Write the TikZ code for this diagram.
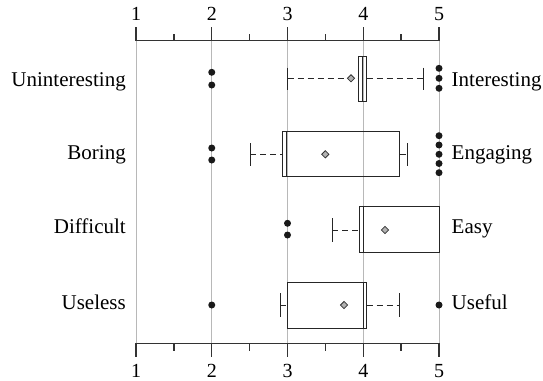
\documentclass[tikz,border=0pt]{standalone}
\usepackage{fontspec}
\setmainfont{Liberation Serif}
\usetikzlibrary{shapes.geometric}
\begin{document}
\begin{tikzpicture}[x=1pt,y=-1pt,
  grid/.style={draw=black!28, line width=1pt},
  axis/.style={draw=black!80, line width=1.3pt},
  boxst/.style={draw=black!85, line width=1pt},
  whisk/.style={draw=black!85, line width=1pt, dash pattern=on 6pt off 4pt},
  capst/.style={draw=black!85, line width=1pt},
  outl/.style={circle, fill=black!90, inner sep=0pt, minimum size=7pt},
  meanst/.style={diamond, draw=black!80, fill=black!30, line width=0.8pt, inner sep=0pt, minimum size=7.5pt},
  lab/.style={font=\fontsize{21}{25}\selectfont, inner sep=0pt},
  num/.style={font=\fontsize{20}{24}\selectfont, inner sep=0pt}]
\useasboundingbox (0,0) rectangle (543,380);
\begin{scope}[x=75.75pt, xshift=60.25pt]
  % grid
  \foreach \v in {1,...,5} \draw[grid] (\v,40.7) -- (\v,343.3);
  % axes
  \draw[axis] (1,40.7) -- (5,40.7);
  \draw[axis] (1,343.3) -- (5,343.3);
  \foreach \v in {1,...,5} {
    \draw[axis] (\v,40.7) -- (\v,26.7);
    \draw[axis] (\v,343.3) -- (\v,357.3);
    \node[num, anchor=base] (nt\v) at (\v,20.5) {\v};
    \node[num, anchor=base] (nb\v) at (\v,377) {\v};
  }
  \foreach \v in {1.5,2.5,3.5,4.5} {
    \draw[axis] (\v,40.7) -- (\v,33.5);
    \draw[axis] (\v,343.3) -- (\v,350.5);
  }
  % row labels
  \node[lab, anchor=base east] (l1) at (0.868,86) {Uninteresting};
  \node[lab, anchor=base east] (l2) at (0.868,159) {Boring};
  \node[lab, anchor=base east] (l3) at (0.868,233.5) {Difficult};
  \node[lab, anchor=base east] (l4) at (0.868,309) {Useless};
  \node[lab, anchor=base west] (r1) at (5.165,86) {Interesting};
  \node[lab, anchor=base west] (r2) at (5.165,159) {Engaging};
  \node[lab, anchor=base west] (r3) at (5.165,233.5) {Easy};
  \node[lab, anchor=base west] (r4) at (5.165,309) {Useful};

  % Row 1: Uninteresting
  \draw[whisk] (3.0,78.3) -- (3.935,78.3);
  \draw[whisk] (4.045,78.3) -- (4.793,78.3);
  \draw[capst] (3.0,67.5) -- (3.0,89.5);
  \draw[capst] (4.793,67.5) -- (4.793,89.5);
  \draw[boxst] (3.935,56) rectangle (4.045,101.7);
  \draw[boxst] (3.99,56) -- (3.99,101.7);
  \node[meanst] (m1) at (3.838,78.3) {};
  \foreach \yy [count=\i] in {68.3,78.3,88.3} \node[outl] (o1r\i) at (5,\yy) {};
  \foreach \yy [count=\i] in {72.3,85} \node[outl] (o1l\i) at (2,\yy) {};

  % Row 2: Boring
  \draw[whisk] (2.505,154.3) -- (2.936,154.3);
  \draw[whisk] (4.485,154.3) -- (4.587,154.3);
  \draw[capst] (2.505,143) -- (2.505,166);
  \draw[capst] (4.587,143) -- (4.587,166);
  \draw[boxst] (2.936,131.7) rectangle (4.485,176.7);
  \draw[boxst] (2.985,131.7) -- (2.985,176.7);
  \node[meanst] (m2) at (3.499,154.3) {};
  \foreach \yy [count=\i] in {135.7,145,154.3,163.5,172.7} \node[outl] (o2r\i) at (5,\yy) {};
  \foreach \yy [count=\i] in {148,160} \node[outl] (o2l\i) at (2,\yy) {};

  % Row 3: Difficult
  \draw[whisk] (3.591,230) -- (3.944,230);
  \draw[capst] (3.591,218.3) -- (3.591,241.7);
  \draw[boxst] (3.944,206.7) rectangle (5,252.3);
  \draw[boxst] (4.0,206.7) -- (4.0,252.3);
  \node[meanst] (m3) at (4.287,230) {};
  \foreach \yy [count=\i] in {223.3,235} \node[outl] (o3l\i) at (3,\yy) {};

  % Row 4: Useless
  \draw[whisk] (2.901,305) -- (3.0,305);
  \draw[whisk] (4.045,305) -- (4.485,305);
  \draw[capst] (2.901,293) -- (2.901,317);
  \draw[capst] (4.485,293) -- (4.485,317);
  \draw[boxst] (3.0,282.7) rectangle (4.045,328.3);
  \draw[boxst] (4.0,282.7) -- (4.0,328.3);
  \node[meanst] (m4) at (3.746,305) {};
  \node[outl] (o4r1) at (5,305) {};
  \node[outl] (o4l1) at (2,305) {};
\end{scope}
\end{tikzpicture}
\end{document}
